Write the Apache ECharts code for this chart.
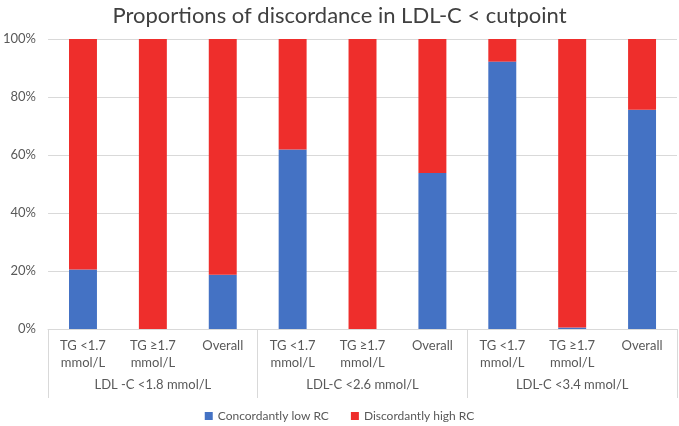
<!DOCTYPE html>
<html>
<head>
<meta charset="utf-8">
<script src="https://cdn.jsdelivr.net/npm/echarts@6/dist/echarts.min.js"></script>
<style>
	html, body { margin: 0; padding: 0; background: #fff; }
	#chart { width: 679px; height: 426px; }
</style>
</head>
<body>
<div id="chart"></div>
<script>
// categories and values
var categories = ["TG <1.7\nmmol/L", "TG ≥1.7\nmmol/L", "Overall",
	"TG <1.7\nmmol/L", "TG ≥1.7\nmmol/L", "Overall",
	"TG <1.7\nmmol/L", "TG ≥1.7\nmmol/L", "Overall"];
var groups = ["LDL -C <1.8 mmol/L", "LDL-C <2.6 mmol/L", "LDL-C <3.4 mmol/L"];
var lowRC = [20.5, 0, 18.7, 61.9, 0, 53.8, 92.2, 0.5, 75.6];
var highRC = [79.5, 100, 81.3, 38.1, 100, 46.2, 7.8, 99.5, 24.4];
var yTicks = [0, 20, 40, 60, 80, 100];

var font = "Lato, 'Liberation Sans', sans-serif";
var textColor = "#595959";
var lineColor = "#d9d9d9";

var myChart = echarts.init(document.getElementById("chart"));

var option = {
	animation: false,
	title: {
		text: "Proportions of discordance in LDL-C < cutpoint",
		left: "center",
		top: 0,
		textStyle: { fontFamily: font, fontSize: 22, fontWeight: "normal", color: "#404040" },
	},
	legend: {
		data: ["Concordantly low RC", "Discordantly high RC"],
		top: 405,
		left: "center",
		icon: "rect",
		itemWidth: 8,
		itemHeight: 8,
		itemGap: 22,
		textStyle: { fontFamily: font, fontSize: 12, color: textColor },
	},
	grid: { left: 41, right: 2, top: 39, bottom: 97 },
	xAxis: [
		{
			type: "category",
			data: categories,
			axisLine: { show: true, lineStyle: { color: lineColor } },
			axisTick: { show: false },
			axisLabel: {
				fontFamily: font, fontSize: 13, color: textColor,
				margin: 8, lineHeight: 17, verticalAlign: "top", interval: 0,
			},
		},
		{
			type: "category",
			data: groups,
			position: "bottom",
			axisLine: { show: false },
			axisTick: { show: true, length: 69, lineStyle: { color: lineColor } },
			axisLabel: {
				fontFamily: font, fontSize: 13, color: textColor,
				margin: 49, verticalAlign: "top", interval: 0,
			},
		},
	],
	yAxis: {
		type: "value",
		min: yTicks[0],
		max: yTicks[yTicks.length - 1],
		interval: 20,
		axisLine: { show: false },
		axisTick: { show: false },
		splitLine: { lineStyle: { color: lineColor } },
		axisLabel: {
			formatter: "{value}%", margin: 12,
			fontFamily: font, fontSize: 13, color: textColor,
		},
	},
	series: [
		{
			name: "Concordantly low RC",
			type: "bar",
			stack: "total",
			barWidth: "40%",
			data: lowRC,
			itemStyle: { color: "#4472c4" },
		},
		{
			name: "Discordantly high RC",
			type: "bar",
			stack: "total",
			barWidth: "40%",
			data: highRC,
			itemStyle: { color: "#ee2e2c" },
		},
	],
};

myChart.setOption(option);
</script>
</body>
</html>
